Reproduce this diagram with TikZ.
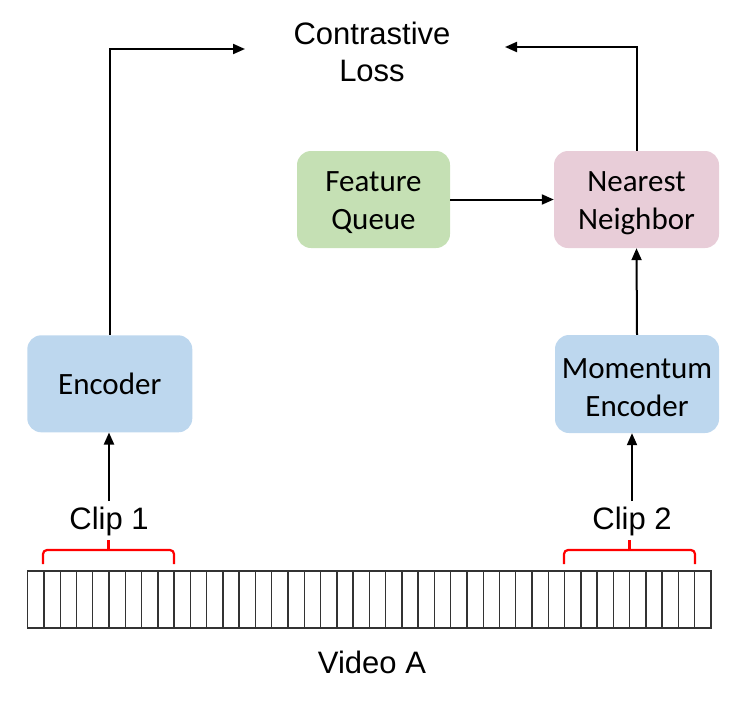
\documentclass[tikz,border=0pt]{standalone}
\usepackage{fontspec}
\setmainfont{Liberation Sans}
\newfontfamily\boxfont{Carlito}
\usetikzlibrary{arrows.meta}
\definecolor{encblue}{HTML}{BDD7EE}
\definecolor{fqgreen}{HTML}{C5E0B4}
\definecolor{nnpink}{HTML}{E8CDD8}
\definecolor{bracered}{HTML}{FF0000}
\newcommand\topstrut{\rule{0pt}{27pt}}
\tikzset{
  blk/.style={rounded corners=14pt, align=center, inner sep=0pt,
    font=\boxfont\fontsize{31}{38}\selectfont},
  lbl/.style={align=center, inner sep=0pt, font=\fontsize{31}{37}\selectfont},
  arr/.style={line width=2pt, -{Triangle[length=12pt,width=10pt]}},
  brc/.style={bracered, line width=2.2pt, rounded corners=4pt},
  frm/.style={line width=1.4pt, draw=black!80}
}
\begin{document}
\begin{tikzpicture}[x=1pt,y=-1pt]
\useasboundingbox (0,0) rectangle (747,702);
% boxes
\node[blk, fill=encblue, minimum width=165pt, minimum height=97pt] (enc) at (109.8,383.8) {Encoder};
\node[blk, fill=encblue, minimum width=164pt, minimum height=98pt] (mom) at (637,384) {\topstrut Momentum\\Encoder};
\node[blk, fill=fqgreen, minimum width=153pt, minimum height=97pt] (fq) at (373.5,199.5) {\topstrut Feature\\Queue};
\node[blk, fill=nnpink, minimum width=165pt, minimum height=97pt] (nn) at (636.5,199.5) {\topstrut Nearest\\Neighbor};
% labels
\node[lbl] (loss) at (372,52) {Contrastive\\Loss};
\node[lbl] (clip1) at (109,521) {Clip 1};
\node[lbl] (clip2) at (632,521) {Clip 2};
\node[lbl] (video) at (372,662) {Video A};
% coordinates
\coordinate (lossL) at (245,49);
\coordinate (lossR) at (505,47);
\coordinate (c1top) at (109,501);
\coordinate (c2top) at (632,501);
% arrows
\draw[arr] (enc.north) |- (lossL);
\draw[arr] (nn.north) |- (lossR);
\draw[arr] (fq.east) -- (nn.west);
\draw[arr] (mom.north) -- (nn.south);
\draw[arr] (c1top) -- (c1top |- enc.south);
\draw[arr] (c2top) -- (c2top |- mom.south);
% video strip
\draw[frm] (27.7,571) rectangle (711,628);
\foreach \i in {1,...,41} {
  \draw[frm] ({27.7+\i*16.269},571) -- ({27.7+\i*16.269},628);
}
% braces
\draw[brc] (43,564) -- (43,550) -- (108.5,550);
\draw[brc] (174,564) -- (174,550) -- (108.5,550);
\draw[bracered, line width=2.2pt] (108.5,551) -- (108.5,540);
\draw[brc] (564,564) -- (564,550) -- (629.5,550);
\draw[brc] (695,564) -- (695,550) -- (629.5,550);
\draw[bracered, line width=2.2pt] (629.5,551) -- (629.5,540);
\end{tikzpicture}
\end{document}
